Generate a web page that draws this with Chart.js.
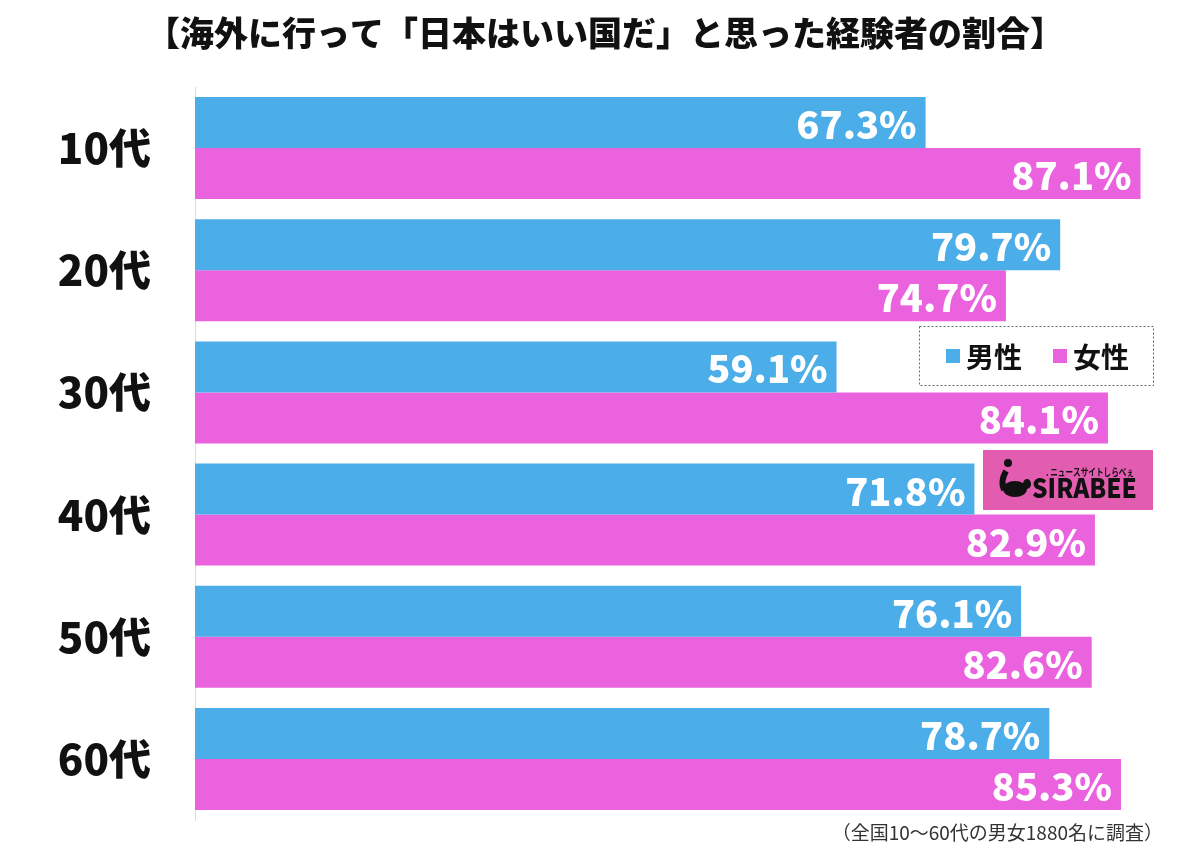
<!DOCTYPE html>
<html>
<head>
<meta charset="utf-8">
<script src="https://cdn.jsdelivr.net/npm/chart.js@4/dist/chart.umd.min.js"></script>
<style>
  html, body { margin: 0; padding: 0; background: #fff; }
  #wrap { width: 1200px; height: 855px; position: relative; }
</style>
</head>
<body>
<div id="wrap"><canvas id="chart"></canvas></div>
<script>
// data
const categories = ['10代', '20代', '30代', '40代', '50代', '60代'];
const seriesNames = ['男性', '女性'];
const maleValues = [67.3, 79.7, 59.1, 71.8, 76.1, 78.7];
const femaleValues = [87.1, 74.7, 84.1, 82.9, 82.6, 85.3];

const titleText = '【海外に行って「日本はいい国だ」と思った経験者の割合】';
const noteText = '（全国10〜60代の男女1880名に調査）';

const BLUE = '#4caee8';
const PINK = '#ea62de';
const JP = '"Noto Sans CJK JP", "Noto Sans", sans-serif';

// draw text squeezed/stretched to a given width
function fitText(ctx, text, x, y, width) {
    const w = ctx.measureText(text).width;
    ctx.save();
    ctx.translate(x, y);
    ctx.scale(width / w, 1);
    ctx.fillText(text, 0, 0);
    ctx.restore();
}

// title, footnote, value labels, legend and logo
const decor = {
    id: 'decor',
    afterDatasetsDraw(chart) {
        const ctx = chart.ctx;
        ctx.save();

        // value labels inside the bar ends
        ctx.fillStyle = '#fff';
        ctx.font = '900 38px ' + JP;
        ctx.textAlign = 'right';
        ctx.textBaseline = 'middle';
        chart.data.datasets.forEach((ds, i) => {
            chart.getDatasetMeta(i).data.forEach((bar, j) => {
                ctx.fillText(ds.data[j].toFixed(1) + '%', bar.x - 9, bar.y + 2);
            });
        });

        // title
        ctx.fillStyle = '#111';
        ctx.textAlign = 'center';
        ctx.font = '900 34px ' + JP;
        ctx.fillText(titleText, 605, 33);

        // footnote
        ctx.fillStyle = '#333';
        ctx.textAlign = 'right';
        ctx.font = '400 19px ' + JP;
        ctx.fillText(noteText, 1163, 833);

        // legend box
        ctx.setLineDash([2, 2]);
        ctx.strokeStyle = '#666';
        ctx.lineWidth = 1;
        ctx.strokeRect(919.5, 326.5, 234, 59);
        ctx.setLineDash([]);
        ctx.textAlign = 'left';
        ctx.font = '700 28px ' + JP;
        const lx = [946, 1053];
        chart.data.datasets.forEach((ds, i) => {
            ctx.fillStyle = ds.backgroundColor;
            ctx.fillRect(lx[i], 349, 14, 14);
            ctx.fillStyle = '#111';
            ctx.fillText(ds.label, lx[i] + 20, 357);
        });

        // SIRABEE logo
        ctx.fillStyle = '#e25cb0';
        ctx.fillRect(983, 450, 170, 60);
        ctx.fillStyle = '#111';
        ctx.strokeStyle = '#111';
        ctx.beginPath();
        ctx.arc(1008, 463, 4, 0, Math.PI * 2);
        ctx.fill();
        ctx.lineWidth = 6;
        ctx.beginPath();
        ctx.moveTo(1006, 471);
        ctx.quadraticCurveTo(1000, 482, 1004, 490);
        ctx.stroke();
        ctx.beginPath();
        ctx.ellipse(1015, 489, 12, 8, 0, 0, Math.PI * 2);
        ctx.fill();
        ctx.beginPath();
        ctx.ellipse(1027, 484, 4, 5, 0, 0, Math.PI * 2);
        ctx.fill();
        ctx.font = '900 27px ' + JP;
        fitText(ctx, 'SIRABEE', 1032, 488, 105);
        ctx.font = '700 10px ' + JP;
        fitText(ctx, '. ニュースサイトしらべぇ', 1046, 472, 88);

        ctx.restore();
    }
};

new Chart(document.getElementById('chart'), {
    type: 'bar',
    data: {
        labels: categories,
        datasets: [
            { label: seriesNames[0], data: maleValues, backgroundColor: BLUE },
            { label: seriesNames[1], data: femaleValues, backgroundColor: PINK }
        ]
    },
    options: {
        indexAxis: 'y',
        responsive: true,
        maintainAspectRatio: false,
        animation: false,
        layout: { padding: { top: 87, bottom: 35, left: 0, right: 28 } },
        datasets: { bar: { categoryPercentage: 0.835, barPercentage: 1.0 } },
        plugins: {
            legend: { display: false },
            tooltip: { enabled: false }
        },
        scales: {
            x: { display: false, min: 0, max: 90 },
            y: {
                grid: { display: false },
                border: { display: true, color: '#dcdcdc', width: 1 },
                afterFit(scale) {
                    scale.width = 195;
                    scale.paddingTop = 0;
                    scale.paddingBottom = 0;
                },
                ticks: {
                    padding: 36,
                    color: '#111',
                    font: { family: JP, size: 42, weight: '900' }
                }
            }
        }
    },
    plugins: [decor]
});
</script>
</body>
</html>
